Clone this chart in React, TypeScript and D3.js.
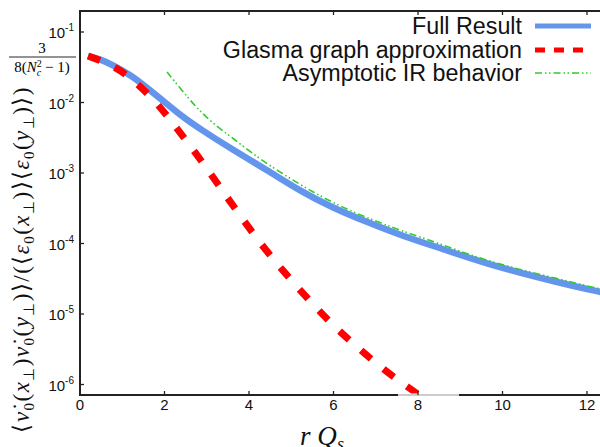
import React, { useEffect, useRef } from "react";
import * as d3 from "d3";

// values (r Q_s, correlator)
const fullR = [0.19, 0.5, 0.78, 1.2, 1.59, 2.0, 2.37, 2.84, 3.62, 4.43, 5.21, 5.99, 6.79, 7.57, 8.6, 9.7, 11.36, 12.31, 12.8];
const fullV = [4.57e-2, 4.07e-2, 3.4e-2, 2.45e-2, 1.61e-2, 1.02e-2, 6.65e-3, 4.21e-3, 2.12e-3, 1.1e-3, 5.56e-4, 3.19e-4, 2.02e-4, 1.32e-4, 8.3e-5, 4.95e-5, 2.75e-5, 2.05e-5, 1.8e-5];

const glasmaR = [0.19, 0.83, 1.35, 1.82, 2.25, 2.65, 3.08, 3.46, 3.83, 4.26, 4.69, 5.14, 5.59, 6.06, 6.53, 7.03, 7.55, 8.0, 8.5];
const glasmaV = [4.57e-2, 3.3e-2, 1.89e-2, 9.84e-3, 4.65e-3, 2.26e-3, 1.0e-3, 4.72e-4, 2.3e-4, 1.02e-4, 4.95e-5, 2.42e-5, 1.22e-5, 6.32e-6, 3.52e-6, 1.95e-6, 1.12e-6, 7.33e-7, 4.4e-7];

const irR = [2.06, 2.6, 2.84, 3.15, 3.62, 4.21, 5.21, 5.99, 6.79, 7.57, 8.6, 9.7, 11.0, 12.31, 12.8];
const irV = [2.71e-2, 1.08e-2, 7.6e-3, 5.0e-3, 3.13e-3, 1.63e-3, 6.76e-4, 3.75e-4, 2.3e-4, 1.55e-4, 9.5e-5, 5.47e-5, 3.5e-5, 2.26e-5, 1.95e-5];

const xTicks = [0, 2, 4, 6, 8, 10, 12];
const yTicks = [1e-1, 1e-2, 1e-3, 1e-4, 1e-5, 1e-6];
const legendLabels = ["Full Result", "Glasma graph approximation", "Asymptotic IR behavior"];

const App = () => {
  const ref = useRef<SVGSVGElement>(null);

  useEffect(() => {
    const W = 600, H = 447;
    const left = 80, top = 11, bottom = 395, right = 612;

    const svg = d3.select(ref.current).attr("width", W).attr("height", H);
    svg.selectAll("*").remove();

    const x = d3.scaleLinear().domain([0, 12]).range([80, 587]);
    const y = d3.scaleLog().domain([1e-6, 1e-1]).range([384.5, 32]);

    svg.append("defs").append("clipPath").attr("id", "plotclip")
      .append("rect").attr("x", left).attr("y", top).attr("width", right - left).attr("height", bottom - top);

    const line = d3.line<[number, number]>()
      .x(d => x(d[0]))
      .y(d => y(d[1]))
      .curve(d3.curveBasis);

    const g = svg.append("g").attr("clip-path", "url(#plotclip)");

    g.append("path")
      .datum(fullR.map((r, i) => [r, fullV[i]] as [number, number]))
      .attr("d", line)
      .attr("fill", "none")
      .attr("stroke", "#6495ed")
      .attr("stroke-width", 6.5);

    g.append("path")
      .datum(glasmaR.map((r, i) => [r, glasmaV[i]] as [number, number]))
      .attr("d", line)
      .attr("fill", "none")
      .attr("stroke", "#ff0000")
      .attr("stroke-width", 7)
      .attr("stroke-dasharray", "13 16");

    g.append("path")
      .datum(irR.map((r, i) => [r, irV[i]] as [number, number]))
      .attr("d", line)
      .attr("fill", "none")
      .attr("stroke", "#2ecc2e")
      .attr("stroke-width", 1.6)
      .attr("stroke-dasharray", "7 3 1.5 2.5 1.5 3");

    // frame
    const axisColor = "#222";
    svg.append("rect")
      .attr("x", left).attr("y", top)
      .attr("width", right - left).attr("height", bottom - top)
      .attr("fill", "none").attr("stroke", axisColor).attr("stroke-width", 2);

    // light segment on bottom axis
    svg.append("rect").attr("x", 398).attr("y", bottom - 1.5).attr("width", 61).attr("height", 3).attr("fill", "#fff");
    svg.append("line").attr("x1", 398).attr("x2", 459).attr("y1", bottom).attr("y2", bottom)
      .attr("stroke", "#999").attr("stroke-width", 1);

    // ticks
    xTicks.forEach(t => {
      svg.append("line").attr("x1", x(t)).attr("x2", x(t)).attr("y1", bottom).attr("y2", bottom - 4)
        .attr("stroke", axisColor).attr("stroke-width", 1.3);
      svg.append("line").attr("x1", x(t)).attr("x2", x(t)).attr("y1", top).attr("y2", top + 4)
        .attr("stroke", axisColor).attr("stroke-width", 1.3);
      svg.append("text")
        .attr("x", x(t)).attr("y", 410)
        .attr("text-anchor", "middle")
        .attr("font-family", "Liberation Sans, Arial, sans-serif")
        .attr("font-size", 15)
        .attr("fill", "#111")
        .text(t);
    });

    yTicks.forEach(t => {
      const ty = y(t);
      svg.append("line").attr("x1", left).attr("x2", left + 4).attr("y1", ty).attr("y2", ty)
        .attr("stroke", axisColor).attr("stroke-width", 1.3);
      const txt = svg.append("text")
        .attr("x", 74).attr("y", ty + 6)
        .attr("text-anchor", "end")
        .attr("font-family", "Liberation Sans, Arial, sans-serif")
        .attr("font-size", 15)
        .attr("fill", "#111");
      txt.append("tspan").text("10");
      txt.append("tspan").attr("font-size", 10).attr("dy", -7).text(String(Math.round(Math.log10(t))));
    });

    // legend
    const lx1 = 535, lx2 = 591, textX = 522;
    const rows = [26, 50, 73];
    legendLabels.forEach((lab, i) => {
      svg.append("text")
        .attr("x", textX).attr("y", rows[i] + 8)
        .attr("text-anchor", "end")
        .attr("font-family", "Liberation Sans, Arial, sans-serif")
        .attr("font-size", 23.3)
        .attr("fill", "#111")
        .text(lab);
    });
    svg.append("line").attr("x1", lx1).attr("x2", lx2).attr("y1", rows[0]).attr("y2", rows[0])
      .attr("stroke", "#6495ed").attr("stroke-width", 5);
    svg.append("line").attr("x1", lx1).attr("x2", 583).attr("y1", rows[1]).attr("y2", rows[1])
      .attr("stroke", "#ff0000").attr("stroke-width", 5).attr("stroke-dasharray", "10 9");
    svg.append("line").attr("x1", lx1).attr("x2", lx2).attr("y1", rows[2]).attr("y2", rows[2])
      .attr("stroke", "#2ecc2e").attr("stroke-width", 1.6).attr("stroke-dasharray", "7 3 1.5 2.5 1.5 3");

    // fraction label 3 / (8(N_c^2 - 1))
    const serif = "Liberation Serif, 'Times New Roman', serif";
    svg.append("text").attr("x", 42).attr("y", 53).attr("text-anchor", "middle")
      .attr("font-family", serif).attr("font-size", 15).text("3");
    svg.append("line").attr("x1", 9).attr("x2", 76).attr("y1", 57).attr("y2", 57)
      .attr("stroke", "#111").attr("stroke-width", 0.9);
    const den = svg.append("text").attr("x", 42).attr("y", 72).attr("text-anchor", "middle")
      .attr("font-family", serif).attr("font-size", 15);
    den.append("tspan").text("8(");
    den.append("tspan").attr("font-style", "italic").text("N");
    den.append("tspan").attr("font-size", 10).attr("dy", -5).text("2");
    den.append("tspan").attr("font-size", 10).attr("dx", -5).attr("dy", 9).attr("font-style", "italic").text("c");
    den.append("tspan").attr("dy", -4).text(" − 1)");

    // y axis label
    const yl = svg.append("text")
      .attr("transform", "translate(29,260) rotate(-90)")
      .attr("text-anchor", "middle")
      .attr("font-family", serif)
      .attr("font-size", 23)
      .attr("textLength", 345)
      .attr("lengthAdjust", "spacing")
      .attr("fill", "#111");
    const parts: [string, string][] = [
      ["⟨", "n"], ["ν̇", "i"], ["0", "s"], ["(", "n"], ["x", "i"], ["⊥", "s"], [")", "n"],
      ["ν̇", "i"], ["0", "s"], ["(", "n"], ["y", "i"], ["⊥", "s"], [")⟩/(⟨", "n"],
      ["ε", "i"], ["0", "s"], ["(", "n"], ["x", "i"], ["⊥", "s"], [")⟩⟨", "n"],
      ["ε", "i"], ["0", "s"], ["(", "n"], ["y", "i"], ["⊥", "s"], [")⟩)", "n"],
    ];
    let sub = false;
    parts.forEach(([s, k]) => {
      const ts = yl.append("tspan").text(s);
      if (k === "i") ts.attr("font-style", "italic");
      if (k === "s") {
        ts.attr("font-size", 15).attr("dy", sub ? 0 : 5);
        sub = true;
      } else if (sub) {
        ts.attr("dy", -5);
        sub = false;
      }
    });

    // x axis label r Q_s
    const xl = svg.append("text")
      .attr("x", 322).attr("y", 445)
      .attr("text-anchor", "middle")
      .attr("font-family", serif)
      .attr("font-size", 27)
      .attr("font-style", "italic")
      .attr("fill", "#111");
    xl.append("tspan").text("r Q");
    xl.append("tspan").attr("font-size", 18).attr("dy", 5).text("s");
  }, []);

  return <svg ref={ref} style={{ position: "absolute", left: 0, top: 0 }}></svg>;
};

export default App;
